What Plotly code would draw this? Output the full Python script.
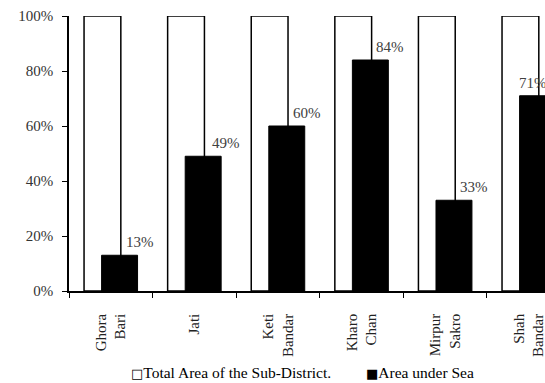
import plotly.graph_objects as go

# Sub-districts and share of each one's area that lies under the sea
districts = ["Ghora<br>Bari", "Jati", "Keti<br>Bandar", "Kharo<br>Chan", "Mirpur<br>Sakro", "Shah<br>Bandar"]
total_share = [1.0, 1.0, 1.0, 1.0, 1.0, 1.0]
sea_share = [0.13, 0.49, 0.60, 0.84, 0.33, 0.71]
value_labels = ["13%", "49%", "60%", "84%", "33%", "71%"]
series_names = ["Total Area of the Sub-District.", "Area under Sea"]

# horizontal nudge of each value label from its category centre (category units)
label_dx = [0.35, 0.38, 0.35, 0.34, 0.35, 0.05]

SERIF = "Liberation Serif, Times New Roman, serif"

fig = go.Figure()
fig.add_trace(go.Bar(
    x=districts, y=total_share, name=series_names[0],
    marker=dict(color="white", line=dict(color="black", width=1.5)),
    offset=-0.32, width=0.44, showlegend=False,
))
fig.add_trace(go.Bar(
    x=districts, y=sea_share, name=series_names[1],
    marker=dict(color="black", line=dict(color="black", width=1)),
    offset=-0.11, width=0.43, showlegend=False,
))

for i, (v, t) in enumerate(zip(sea_share, value_labels)):
    fig.add_annotation(
        x=i + label_dx[i], y=v, xref="x", yref="y", text=t,
        showarrow=False, yanchor="bottom", xanchor="center", yshift=3,
        font=dict(family=SERIF, size=15, color="#404040"),
    )

# key beneath the chart: square glyph followed by the series name
key_glyphs = ["\u25a1", "\u25a0"]
key_x = [0.125, 0.62]
for name, glyph, kx in zip(series_names, key_glyphs, key_x):
    fig.add_annotation(
        x=kx, y=-0.298, xref="paper", yref="paper",
        text=f"<span style='font-family:DejaVu Sans;font-size:13px;font-weight:bold'>{glyph}</span>{name}",
        showarrow=False, xanchor="left", yanchor="middle",
        font=dict(family=SERIF, size=15.5, color="black"),
    )

fig.update_layout(
    width=545, height=383,
    margin=dict(l=69, r=0, t=16, b=92),
    barmode="overlay",
    plot_bgcolor="white", paper_bgcolor="white",
    font=dict(family=SERIF, size=15, color="black"),
    showlegend=False,
    xaxis=dict(
        type="category", range=[-0.5, 5.194], automargin=False,
        showline=True, linecolor="black", linewidth=1.5,
        ticks="outside", tickson="boundaries", ticklen=5, tickcolor="black",
        tickangle=-90, showgrid=False, zeroline=False, ticklabelstandoff=15,
        tickfont=dict(family=SERIF, size=15, color="#222"),
    ),
    yaxis=dict(
        range=[0, 1], tickvals=[0, 0.2, 0.4, 0.6, 0.8, 1.0], tickformat=".0%",
        showline=True, linecolor="black", linewidth=1.5, automargin=False,
        ticks="outside", ticklen=5, tickcolor="black",
        showgrid=False, zeroline=False, ticklabelstandoff=6,
        tickfont=dict(family=SERIF, size=15, color="#333"),
    ),
)

fig.write_html("out.html")
